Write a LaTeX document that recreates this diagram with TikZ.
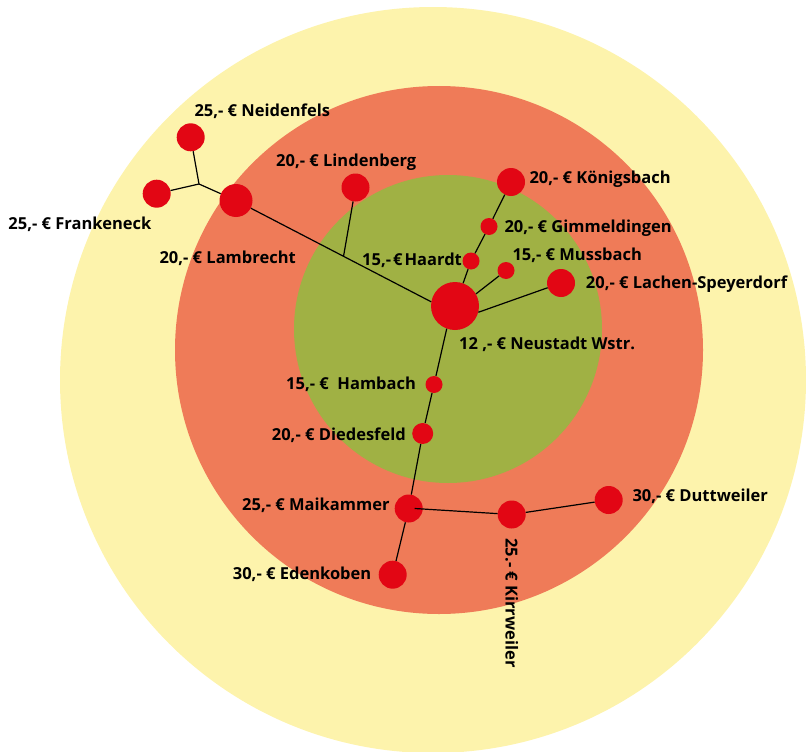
\documentclass[tikz,border=0pt]{standalone}
\usepackage{fontspec}
\setmainfont{Open Sans}
\usetikzlibrary{calc}
\definecolor{outerzone}{RGB}{253,243,172}
\definecolor{middlezone}{RGB}{239,123,88}
\definecolor{innerzone}{RGB}{160,177,68}
\definecolor{townred}{RGB}{226,6,20}
\tikzstyle{town} = [circle, fill=townred, inner sep=0pt, minimum size=28pt]
\tikzstyle{link} = [line width=1.2pt, black]

\begin{document}
\begin{tikzpicture}[
            x=1pt, y=-1pt,
            village/.style={town, minimum size=17pt},
            hub/.style={town, minimum size=48pt},
            price/.style={anchor=base west, inner sep=0pt, font=\bfseries\fontsize{16.5}{18}\selectfont}
        ]
            \useasboundingbox (0,0) rectangle (806,752);
            % Zones
            \fill[outerzone] (433,380) circle [radius=373pt];
            \fill[middlezone] (439,350) circle [radius=264pt];
            \fill[innerzone] (448,329) circle [radius=154pt];

            % Towns
            \node (neustadt) [hub] at (455,306) {};
            \node (haardt) [village] at (471,261) {};
            \node (gimmeldingen) [village] at (489,226.5) {};
            \node (koenigsbach) [town] at (511,182) {};
            \node (mussbach) [village] at (506,270.5) {};
            \node (lachen) [town] at (561,283) {};
            \node (lindenberg) [town] at (355.5,187.5) {};
            \node (lambrecht) [town, minimum size=33pt] at (236,200.5) {};
            \node (neidenfels) [town] at (190.7,137.3) {};
            \node (frankeneck) [town] at (156.7,193.7) {};
            \node (hambach) [village] at (434,384.5) {};
            \node (diedesfeld) [town, minimum size=21pt] at (422.7,433.5) {};
            \node (maikammer) [town] at (408.7,508.5) {};
            \node (edenkoben) [town] at (392.7,574.7) {};
            \node (kirrweiler) [town] at (511.7,514.5) {};
            \node (duttweiler) [town] at (608.7,500) {};
            \coordinate (fork) at (199,184);
            \coordinate (lindfoot) at (343.5,256.5);

            % Links
            \draw [link] (neustadt) -- (haardt) -- (gimmeldingen) -- (koenigsbach);
            \draw [link] (neustadt.30) -- (mussbach);
            \draw [link] (neustadt.-15) -- (lachen);
            \draw [link] (neustadt.170) -- (lambrecht) -- (fork) -- (neidenfels);
            \draw [link] (fork) -- (frankeneck);
            \draw [link] (lindfoot) -- (lindenberg);
            \draw [link] (neustadt.250) -- (hambach) -- (diedesfeld) -- (maikammer) -- (edenkoben);
            \draw [link] ([xshift=6pt]maikammer.center) -- (kirrweiler) -- (duttweiler);

            % Prices
            \node (pneustadt) [price] at (459,349.3) {12 ,- € Neustadt Wstr.};
            \node (phaardt) [price] at (362,265.7) {15,-\kern2pt €\kern2pt Haardt};
            \node (pgimmeldingen) [price] at (504.3,232.3) {20,- € Gimmeldingen};
            \node (pkoenigsbach) [price] at (529.3,183.3) {20,- € Königsbach};
            \node (pmussbach) [price] at (512.3,260) {15,- € Mussbach};
            \node (plachen) [price] at (585.7,288.7) {20,- € Lachen-Speyerdorf};
            \node (plindenberg) [price] at (276,166) {20,- € Lindenberg};
            \node (plambrecht) [price] at (159.3,263) {20,- € Lambrecht};
            \node (pneidenfels) [price] at (194.3,116.5) {25,- € Neidenfels};
            \node (pfrankeneck) [price] at (8.3,229) {25,- € Frankeneck};
            \node (phambach) [price] at (286,389) {15,- €~~Hambach};
            \node (pdiedesfeld) [price] at (271.7,440.7) {20,- € Diedesfeld};
            \node (pmaikammer) [price] at (242,510.7) {25,- € Maikammer};
            \node (pedenkoben) [price] at (232.7,579) {30,- € Edenkoben};
            \node (pduttweiler) [price] at (632.3,501.7) {30,- € Duttweiler};
            \node (pkirrweiler) [price, rotate=-90] at (505.7,538.3) {25.- € Kirrweiler};
        \end{tikzpicture}
\end{document}
